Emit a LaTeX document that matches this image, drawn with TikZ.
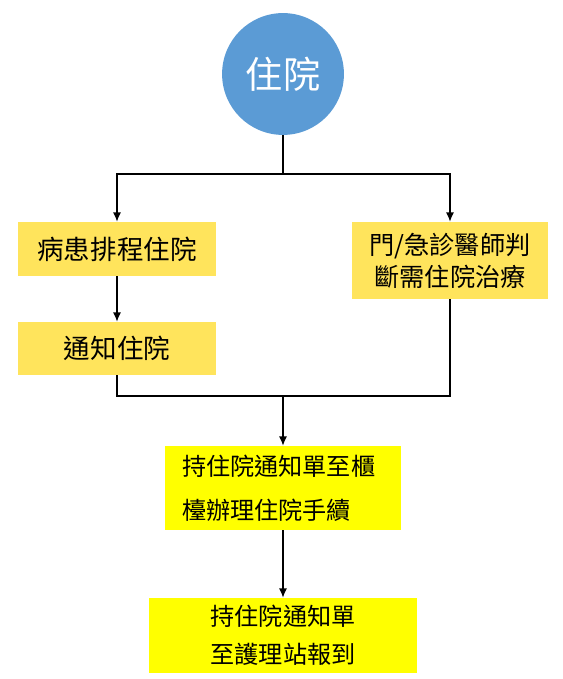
\documentclass[tikz,border=0pt]{standalone}
\usepackage{fontspec}
\newfontfamily\cjk{Noto Sans CJK TC}
\usetikzlibrary{shapes.geometric, arrows.meta}
\definecolor{circleblue}{HTML}{5B9BD5}
\definecolor{paleyellow}{HTML}{FFE45C}
\definecolor{brightyellow}{HTML}{FFFF00}
\tikzstyle{startcircle} = [
    circle,
    minimum size=3.23cm,
    fill=circleblue,
    text=white,
    font=\cjk\fontsize{28}{34}\selectfont
]
\tikzstyle{process} = [
    rectangle,
    minimum width=5.25cm,
    inner sep=0pt,
    fill=paleyellow,
    align=center,
    font=\cjk\fontsize{20}{24}\selectfont
]
\tikzstyle{desk} = [
    rectangle,
    inner sep=0pt,
    fill=brightyellow,
    font=\cjk\fontsize{18.2}{33}\selectfont
]
\tikzstyle{line} = [line width=0.9pt]
\tikzstyle{arrow} = [line width=0.9pt,->,>={Latex[length=7pt,width=6pt]}]

\begin{document}
\begin{tikzpicture}[x=0.0265cm, y=-0.0265cm]
\useasboundingbox (0,0) rectangle (562,679);

\node (start) [startcircle] at (283,74) {住院};

\node (sched) [process, minimum height=1.431cm] at (117,249) {病患排程住院};

\node (notify) [process, minimum height=1.405cm] at (117,348.5) {通知住院};

\node (er) [process, minimum width=5.22cm, minimum height=2.04cm,
    font=\cjk\fontsize{19}{24}\selectfont] at (450,260.5)
{門/急診醫師判\\斷需住院治療};

\node (counter) [desk, minimum width=6.254cm, minimum height=2.226cm,
    text width=5.35cm, align=left] at (283,488)
{持住院通知單至櫃\\檯辦理住院手續};

\node (ward) [desk, minimum width=7.1cm, minimum height=1.99cm, align=center,
    font=\cjk\fontsize{18.2}{29}\selectfont] at (283,635.5)
{持住院通知單\\至護理站報到};

\coordinate (split) at (283,174);
\coordinate (join) at (283,396);

\draw [line] (start) -- (split);
\draw [arrow] (split) -| (sched);
\draw [arrow] (split) -| (er);
\draw [arrow] (sched) -- (notify);
\draw [line] (notify) |- (join) -| (er);
\draw [arrow] (join) -- (counter);
\draw [arrow] (counter) -- (ward);

\end{tikzpicture}
\end{document}
